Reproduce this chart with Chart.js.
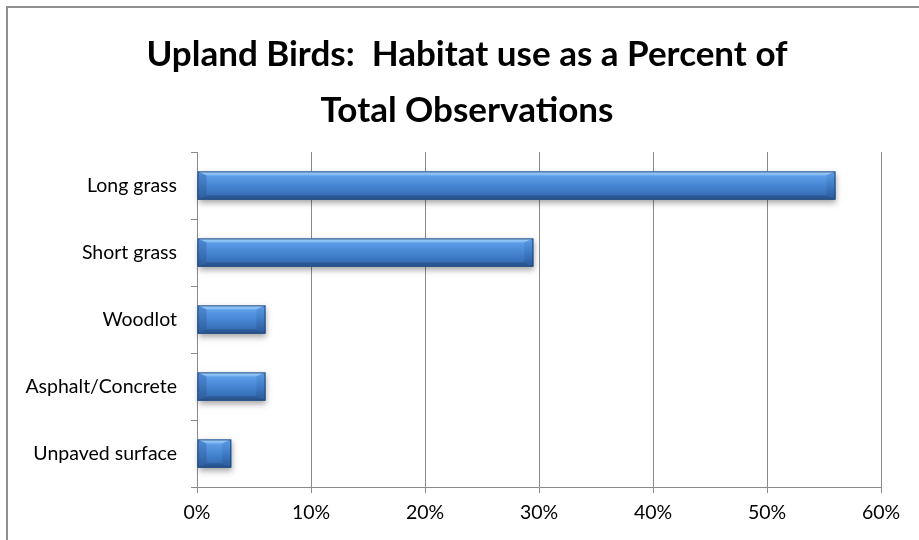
<!DOCTYPE html>
<html>
<head>
<meta charset="utf-8">
<script src="https://cdn.jsdelivr.net/npm/chart.js@4/dist/chart.umd.min.js"></script>
<style>
  html, body { margin: 0; padding: 0; background: #ffffff; }
  #wrap { position: relative; width: 919px; height: 540px; }
</style>
</head>
<body>
<div id="wrap"><canvas id="c" width="919" height="540"></canvas></div>
<script>
// Habitat categories, top to bottom
const habitats = ['Long grass', 'Short grass', 'Woodlot', 'Asphalt/Concrete', 'Unpaved surface'];
// Share of total observations, percent
const sharePercent = [56, 29.5, 6, 6, 3];
// Axis tick range (percent)
const axisMin = 0;
const axisMax = 60;
const axisStep = 10;

const titleLines = ['Upland Birds:  Habitat use as a Percent of', 'Total Observations'];

const FONT = 'Lato, "Open Sans", sans-serif';
const GRID = '#8a8a8a';

// Outer frame around the whole chart
const framePlugin = {
  id: 'frame',
  beforeDraw(chart) {
    const ctx = chart.ctx;
    ctx.save();
    ctx.fillStyle = '#ffffff';
    ctx.fillRect(0, 0, chart.width, chart.height);
    ctx.strokeStyle = '#8f8f8f';
    ctx.lineWidth = 2;
    ctx.strokeRect(7, 7, chart.width + 10, chart.height + 10);
    ctx.restore();
  }
};

// Centre the title over the frame rather than the padded layout box
const titleShiftPlugin = {
  id: 'titleShift',
  afterLayout(chart) {
    if (chart.titleBlock) {
      chart.titleBlock.left += 38;
    }
  }
};

// Bevelled, shaded bars painted over the library's bar geometry
const bevelPlugin = {
  id: 'bevel',
  afterDatasetsDraw(chart) {
    const ctx = chart.ctx;
    const meta = chart.getDatasetMeta(0);
    meta.data.forEach(el => {
      const p = el.getProps(['x', 'y', 'base', 'height'], true);
      const L = Math.min(p.x, p.base), R = Math.max(p.x, p.base);
      const T = p.y - p.height / 2, B = p.y + p.height / 2;
      const w = R - L, h = B - T;
      const bv = Math.min(4, h / 5);
      const be = Math.min(9, w / 3);

      // drop shadow
      ctx.save();
      ctx.shadowColor = 'rgba(0,0,0,0.35)';
      ctx.shadowBlur = 6;
      ctx.shadowOffsetX = 1;
      ctx.shadowOffsetY = 3;
      ctx.fillStyle = '#3b74bd';
      ctx.fillRect(L, T, w, h);
      ctx.restore();

      // main face
      const g = ctx.createLinearGradient(0, T, 0, B);
      g.addColorStop(0, '#6aa9ef');
      g.addColorStop(0.35, '#4f8fdc');
      g.addColorStop(0.7, '#3d79c3');
      g.addColorStop(1, '#2f62a4');
      ctx.fillStyle = g;
      ctx.fillRect(L, T, w, h);

      // top facet
      const gt = ctx.createLinearGradient(0, T, 0, T + bv);
      gt.addColorStop(0, '#a9d3fb');
      gt.addColorStop(1, '#78b4f2');
      ctx.fillStyle = gt;
      ctx.beginPath();
      ctx.moveTo(L, T); ctx.lineTo(R, T); ctx.lineTo(R - be, T + bv); ctx.lineTo(L + be, T + bv);
      ctx.closePath(); ctx.fill();

      // bottom facet
      ctx.fillStyle = '#2b5894';
      ctx.beginPath();
      ctx.moveTo(L, B); ctx.lineTo(R, B); ctx.lineTo(R - be, B - bv); ctx.lineTo(L + be, B - bv);
      ctx.closePath(); ctx.fill();

      // left facet
      const gl = ctx.createLinearGradient(0, T, 0, B);
      gl.addColorStop(0, '#4f8bd6');
      gl.addColorStop(1, '#2c5c9c');
      ctx.fillStyle = gl;
      ctx.beginPath();
      ctx.moveTo(L, T); ctx.lineTo(L + be, T + bv); ctx.lineTo(L + be, B - bv); ctx.lineTo(L, B);
      ctx.closePath(); ctx.fill();

      // right facet
      const gr = ctx.createLinearGradient(0, T, 0, B);
      gr.addColorStop(0, '#5d9de6');
      gr.addColorStop(0.5, '#3f7bc6');
      gr.addColorStop(1, '#2a5896');
      ctx.fillStyle = gr;
      ctx.beginPath();
      ctx.moveTo(R, T); ctx.lineTo(R - be, T + bv); ctx.lineTo(R - be, B - bv); ctx.lineTo(R, B);
      ctx.closePath(); ctx.fill();

      // outline
      ctx.strokeStyle = 'rgba(38,70,112,0.85)';
      ctx.lineWidth = 1;
      ctx.strokeRect(L + 0.5, T + 0.5, w - 1, h - 1);
    });
  }
};

new Chart(document.getElementById('c'), {
  type: 'bar',
  data: {
    labels: habitats,
    datasets: [{
      data: sharePercent,
      backgroundColor: 'rgba(0,0,0,0)',
      borderWidth: 0,
      categoryPercentage: 1,
      barPercentage: 0.42
    }]
  },
  options: {
    indexAxis: 'y',
    responsive: false,
    animation: false,
    devicePixelRatio: 1,
    layout: { padding: { left: 15, right: 38, top: 0, bottom: 0 } },
    plugins: {
      legend: { display: false },
      tooltip: { enabled: false },
      title: {
        display: true,
        text: titleLines,
        color: '#000000',
        font: { family: FONT, size: 35, weight: 'bold', lineHeight: 1.6 },
        padding: { top: 27, bottom: 13 }
      }
    },
    scales: {
      x: {
        min: axisMin,
        max: axisMax,
        afterFit(scale) { scale.height = 53; },
        ticks: {
          stepSize: axisStep,
          callback: v => v + '%',
          color: '#000000',
          font: { family: FONT, size: 19.5 },
          padding: 8
        },
        grid: { color: GRID, lineWidth: 1, tickLength: 6, drawOnChartArea: true },
        border: { color: GRID, width: 1 }
      },
      y: {
        afterFit(scale) { scale.width = 182; },
        ticks: {
          color: '#000000',
          font: { family: FONT, size: 19.5 },
          padding: 14
        },
        grid: { offset: true, drawOnChartArea: false, color: GRID, tickLength: 6 },
        border: { color: GRID, width: 1 }
      }
    }
  },
  plugins: [framePlugin, titleShiftPlugin, bevelPlugin]
});
</script>
</body>
</html>
